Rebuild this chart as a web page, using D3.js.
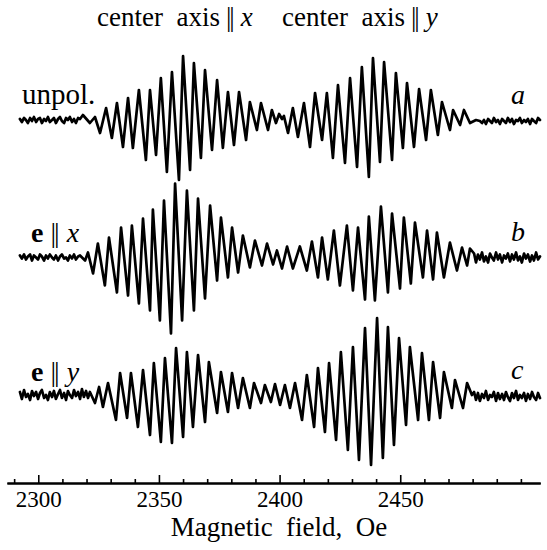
<!DOCTYPE html>
<html>
<head>
<meta charset="utf-8">
<script src="https://cdn.jsdelivr.net/npm/d3@7"></script>
<style>
  body { margin: 0; background: #fff; }
  text { font-family: "Liberation Serif", "Times New Roman", serif; fill: #000; }
</style>
</head>
<body>
<svg id="chart" width="547" height="550"></svg>
<script>
// ---- Magnetic field sampling of the flat baseline stretches (Oe) ----
const fieldLow = [2292.4, 2293.2, 2294.1, 2294.9, 2295.7, 2296.6, 2297.4, 2298.2, 2299.1, 2299.9,
  2300.7, 2301.5, 2302.4, 2303.2, 2304.0, 2304.8, 2305.7, 2306.5, 2307.3, 2308.2,
  2309.0, 2309.8, 2310.7, 2311.5, 2312.3, 2313.1, 2314.0, 2314.8, 2315.6, 2316.5,
  2317.3, 2318.1, 2318.9, 2319.8, 2320.6];
const fieldHigh = [2480.6, 2481.4, 2482.2, 2483.0, 2483.9, 2484.7, 2485.5, 2486.4, 2487.2, 2488.0,
  2488.8, 2489.7, 2490.5, 2491.3, 2492.2, 2493.0, 2493.8, 2494.6, 2495.5, 2496.3,
  2497.1, 2498.0, 2498.8, 2499.6, 2500.4, 2501.3, 2502.1, 2502.9, 2503.8, 2504.6,
  2505.4, 2506.3, 2507.1, 2507.9];

// ---- a: unpolarized ----
const lineFieldA = [2318.5, 2321.4, 2323.5, 2325.6, 2328.1, 2330.5, 2332.6, 2335.1, 2337.2, 2339.2,
  2341.7, 2344.6, 2346.3, 2348.8, 2350.8, 2353.3, 2355.4, 2358.3, 2360.0, 2362.9,
  2364.5, 2367.4, 2369.1, 2372.0, 2374.1, 2376.5, 2378.6, 2381.1, 2383.2, 2386.1,
  2387.7, 2390.6, 2392.3, 2395.2, 2396.8, 2398.5, 2399.8, 2401.0, 2401.8,
  2403.5, 2405.5, 2407.6, 2410.1, 2412.6, 2414.7, 2417.6, 2419.6, 2422.1, 2424.2,
  2427.1, 2429.2, 2432.1, 2434.1, 2437.0, 2438.7, 2441.6, 2443.3, 2446.6, 2448.2,
  2451.1, 2452.8, 2455.7, 2457.8, 2460.7, 2462.7, 2465.6, 2467.3, 2470.6, 2471.9,
  2474.8, 2476.4, 2478.9, 2481.4];
const noiseLowA = [0.1, -0.2, 0.2, 0.0, -0.3, 0.2, -0.1, 0.3, -0.2, 0.1, 0.2, -0.3, 0.1, -0.1, 0.3, -0.2,
  0.0, 0.2, -0.3, 0.1, 0.3, -0.1, -0.3, 0.2, 0.0, 0.3, -0.2, 0.1, -0.3, 0.2, 0.1];
const linesA = [0.5, -0.3, 0.3, -1.3, 1.2, -1.8, 1.7, -2.7, 2.2, -2.8,
  3.0, -4.0, 3.0, -3.5, 4.2, -5.2, 4.8, -6.0, 6.4, -5.0,
  5.7, -3.8, 5.0, -3.0, 4.0, -2.8, 2.8, -2.5, 2.8, -2.0,
  1.8, -1.0, 1.7, -1.0, 1.0, -0.3, 0.6, 0.1, 0.4,
  -1.3, 1.2, -1.7, 1.7, -2.7, 2.7, -2.0, 2.7, -3.8, 3.5,
  -4.3, 4.2, -4.7, 5.3, -5.7, 6.2, -4.2, 5.8, -4.0, 4.7,
  -2.8, 3.7, -2.7, 3.1, -2.0, 3.0, -1.5, 1.8, -1.0, 1.0,
  -0.5, 1.0, -0.3, 0.0];
const noiseHighA = [-0.1, -0.3, 0.0, -0.4, 0.1, -0.1, -0.3, 0.2, -0.2, 0.0, -0.4, 0.1, -0.1, -0.3, 0.2, -0.2,
  0.1, -0.4, 0.0, -0.1, 0.2, -0.3, 0.0, -0.2, 0.1, -0.4, 0.1, -0.1, -0.3, 0.2, 0.0];

// ---- b: e || x ----
const lineFieldB = [2317.3, 2319.4, 2320.6, 2322.7, 2324.7, 2327.6, 2329.3, 2332.6, 2334.3, 2337.2,
  2338.8, 2341.7, 2343.4, 2346.3, 2347.5, 2350.4, 2352.1, 2355.0, 2356.7, 2359.6,
  2361.6, 2364.5, 2366.2, 2369.1, 2371.2, 2374.1, 2375.7, 2378.6, 2380.3, 2382.8,
  2384.8, 2387.7, 2389.8, 2392.7, 2394.8, 2397.3, 2398.9, 2401.0, 2403.1, 2405.5,
  2408.4, 2411.3, 2413.4, 2415.9, 2417.6, 2420.0, 2422.5, 2425.0, 2427.9, 2430.4,
  2432.5, 2435.4, 2437.0, 2439.5, 2442.0, 2444.9, 2446.6, 2449.9, 2451.5, 2454.4,
  2456.1, 2459.4, 2461.1, 2463.6, 2465.2, 2468.1, 2470.6, 2473.5, 2475.6, 2477.7, 2478.9];
const noiseLowB = [0.2, -0.1, 0.3, -0.2, 0.1, 0.3, -0.3, 0.2, 0.0, -0.2, 0.3, 0.1, -0.3, 0.2, -0.1,
  0.3, 0.0, -0.2, 0.2, -0.3, 0.1, 0.3, -0.1, 0.0, -0.3, 0.2, -0.1, 0.3, -0.2, 0.1];
const linesB = [0.2, -0.3, 0.5, -1.6, 1.4, -2.8, 2.0, -3.5, 3.0, -3.8,
  3.2, -4.6, 3.9, -5.3, 4.8, -6.3, 5.7, -7.6, 7.4, -6.3,
  6.7, -5.3, 5.9, -4.1, 5.2, -2.3, 4.0, -2.0, 3.0, -1.5,
  2.2, -1.0, 1.7, -0.8, 1.4, -0.7, 0.7, -1.1, 1.1, -1.1,
  1.1, -1.3, 1.6, -2.0, 2.0, -2.2, 2.7, -2.8, 3.2, -3.3,
  3.0, -4.2, 4.1, -4.3, 5.1, -3.5, 4.4, -3.1, 4.0, -2.6,
  3.5, -2.0, 2.7, -2.2, 2.5, -2.0, 1.5, -1.3, 1.0, -0.8, 0.9];
const noiseHighB = [0.4, -0.5, 0.3, -0.2, 0.5, -0.4, 0.1, -0.5, 0.4, 0.0, -0.3, 0.5, -0.2, 0.3, -0.5,
  0.2, -0.1, 0.4, -0.4, 0.3, -0.2, 0.5, -0.3, 0.1, -0.5, 0.4, -0.1, 0.3, -0.4, 0.2, -0.3, 0.5, -0.2, 0.1];

// ---- c: e || y ----
const lineFieldC = [2321.4, 2323.5, 2325.2, 2326.8, 2328.9, 2332.2, 2333.9, 2336.8, 2338.4, 2341.3,
  2343.4, 2346.3, 2347.9, 2350.8, 2352.5, 2355.4, 2357.1, 2360.0, 2361.6, 2364.1,
  2366.2, 2369.1, 2370.7, 2374.1, 2375.7, 2378.6, 2380.3, 2382.8, 2384.8, 2387.7,
  2389.4, 2392.3, 2393.9, 2396.4, 2398.1, 2400.2, 2402.2, 2404.3, 2406.4, 2409.3,
  2411.3, 2414.3, 2415.9, 2418.8, 2420.5, 2423.4, 2425.4, 2428.3, 2430.4, 2432.9,
  2435.4, 2437.9, 2440.4, 2442.8, 2444.9, 2447.4, 2449.5, 2452.4, 2454.0, 2457.4,
  2459.0, 2461.9, 2463.6, 2466.5, 2468.1, 2471.4, 2472.7, 2476.0, 2477.7, 2479.7];
const noiseLowC = [0.3, -0.4, 0.5, -0.2, 0.1, -0.5, 0.4, -0.1, 0.3, -0.4, 0.2, 0.5, -0.3, 0.0, -0.5,
  0.3, -0.2, 0.4, -0.4, 0.1, 0.5, -0.3, 0.2, -0.5, 0.4, 0.0, -0.3, 0.5, -0.1, 0.3, -0.4, 0.6, -0.2, 0.4, -0.3];
const linesC = [0.3, -0.8, 0.8, -1.2, 1.2, -2.5, 2.2, -2.3, 2.2, -3.2,
  2.5, -4.0, 3.2, -4.7, 3.7, -4.8, 4.7, -4.2, 4.3, -3.2,
  4.0, -2.7, 3.3, -1.8, 2.3, -1.7, 2.2, -1.3, 1.7, -1.3,
  1.2, -0.8, 1.0, -0.7, 1.1, -1.0, 1.0, -1.3, 1.2, -2.5,
  2.0, -3.2, 2.7, -3.7, 3.2, -4.5, 4.3, -5.5, 4.8, -6.5,
  6.7, -7.0, 7.7, -6.3, 6.8, -5.0, 5.7, -3.0, 4.8, -2.5,
  4.2, -2.5, 3.3, -2.3, 2.3, -1.3, 1.5, -1.3, 1.2, 0.0];
const noiseHighC = [0.3, -0.5, 0.2, -0.6, 0.1, -0.3, 0.4, -0.5, 0.0, -0.2, 0.3, -0.6, 0.2, -0.4, 0.1,
  -0.5, 0.3, -0.2, -0.6, 0.2, -0.3, 0.4, -0.5, 0.0, -0.3, 0.2, -0.6, 0.1, -0.4, 0.3, -0.2, -0.5, 0.2, -0.3];

// Axis ticks (Oe)
const majorTicks = [2300, 2350, 2400, 2450];
const minorTicks = [2290, 2310, 2320, 2330, 2340, 2360, 2370, 2380, 2390, 2410, 2420, 2430, 2440, 2460, 2470, 2480, 2490, 2500];

// Full traces
const traces = [
  { key: "a", field: fieldLow.slice(0, 31).concat(lineFieldA, fieldHigh.slice(3)),
    signal: noiseLowA.concat(linesA, noiseHighA) },
  { key: "b", field: fieldLow.slice(0, 30).concat(lineFieldB, fieldHigh),
    signal: noiseLowB.concat(linesB, noiseHighB) },
  { key: "c", field: fieldLow.concat(lineFieldC, fieldHigh),
    signal: noiseLowC.concat(linesC, noiseHighC) }
];

const svg = d3.select("#chart");

const x = d3.scaleLinear().domain([2287, 2508]).range([6.9, 540.2]);
const row = d3.scalePoint().domain(["a", "b", "c"]).range([120, 395]);
const amp = d3.scaleLinear().domain([-8, 8]).range([80, -80]);

traces.forEach(t => {
  const pts = t.field.map((f, i) => [f, t.signal[i]]);
  const line = d3.line()
    .x(d => x(d[0]))
    .y(d => row(t.key) + amp(d[1]));
  svg.append("path")
    .datum(pts)
    .attr("d", line)
    .attr("fill", "none")
    .attr("stroke", "#000")
    .attr("stroke-width", 2.7)
    .attr("stroke-linejoin", "round")
    .attr("stroke-linecap", "round");
});

// Field axis
const axisY = 483;
const gMinor = svg.append("g").attr("transform", `translate(0,${axisY})`)
  .call(d3.axisBottom(x).tickValues(minorTicks).tickSize(-4).tickSizeOuter(0).tickFormat(""));
const gMajor = svg.append("g").attr("transform", `translate(0,${axisY})`)
  .call(d3.axisBottom(x).tickValues(majorTicks).tickSize(-8).tickSizeOuter(0)
    .tickFormat(d3.format("d")));
[gMinor, gMajor].forEach(g => {
  g.selectAll("path.domain").attr("stroke", "#000").attr("stroke-width", 2);
  g.selectAll(".tick line").attr("stroke", "#000").attr("stroke-width", 1.6);
});
gMajor.selectAll(".tick text")
  .attr("font-family", "Liberation Serif, serif")
  .attr("font-size", 23)
  .attr("y", 24)
  .attr("dy", 0)
  .attr("fill", "#000");

svg.append("text")
  .attr("x", 279).attr("y", 536)
  .attr("text-anchor", "middle")
  .attr("font-size", 27)
  .style("white-space", "pre")
  .text("Magnetic  field,  Oe");

// Column headings
function heading(xPos, axisName) {
  const t = svg.append("text").attr("x", xPos).attr("y", 26).attr("font-size", 27)
    .style("white-space", "pre");
  t.append("tspan").text("center  axis");
  t.append("tspan").attr("dx", 6).attr("letter-spacing", -2).text("||");
  t.append("tspan").attr("dx", 8).attr("font-style", "italic").text(axisName);
}
heading(97, "x");
heading(282, "y");

// Row labels
svg.append("text").attr("x", 22).attr("y", 104).attr("font-size", 29).text("unpol.");

function polLabel(yPos, axisName) {
  const t = svg.append("text").attr("x", 31).attr("y", yPos).attr("font-size", 28);
  t.append("tspan").attr("font-weight", "bold").text("e");
  t.append("tspan").attr("dx", 7).attr("letter-spacing", -2).text("||");
  t.append("tspan").attr("dx", 9).attr("font-style", "italic").text(axisName);
}
polLabel(242, "x");
polLabel(381, "y");

[["a", 104], ["b", 241], ["c", 379]].forEach(([s, yPos]) => {
  svg.append("text").attr("x", 511).attr("y", yPos).attr("font-size", 28)
    .attr("font-style", "italic").text(s);
});
</script>
</body>
</html>
